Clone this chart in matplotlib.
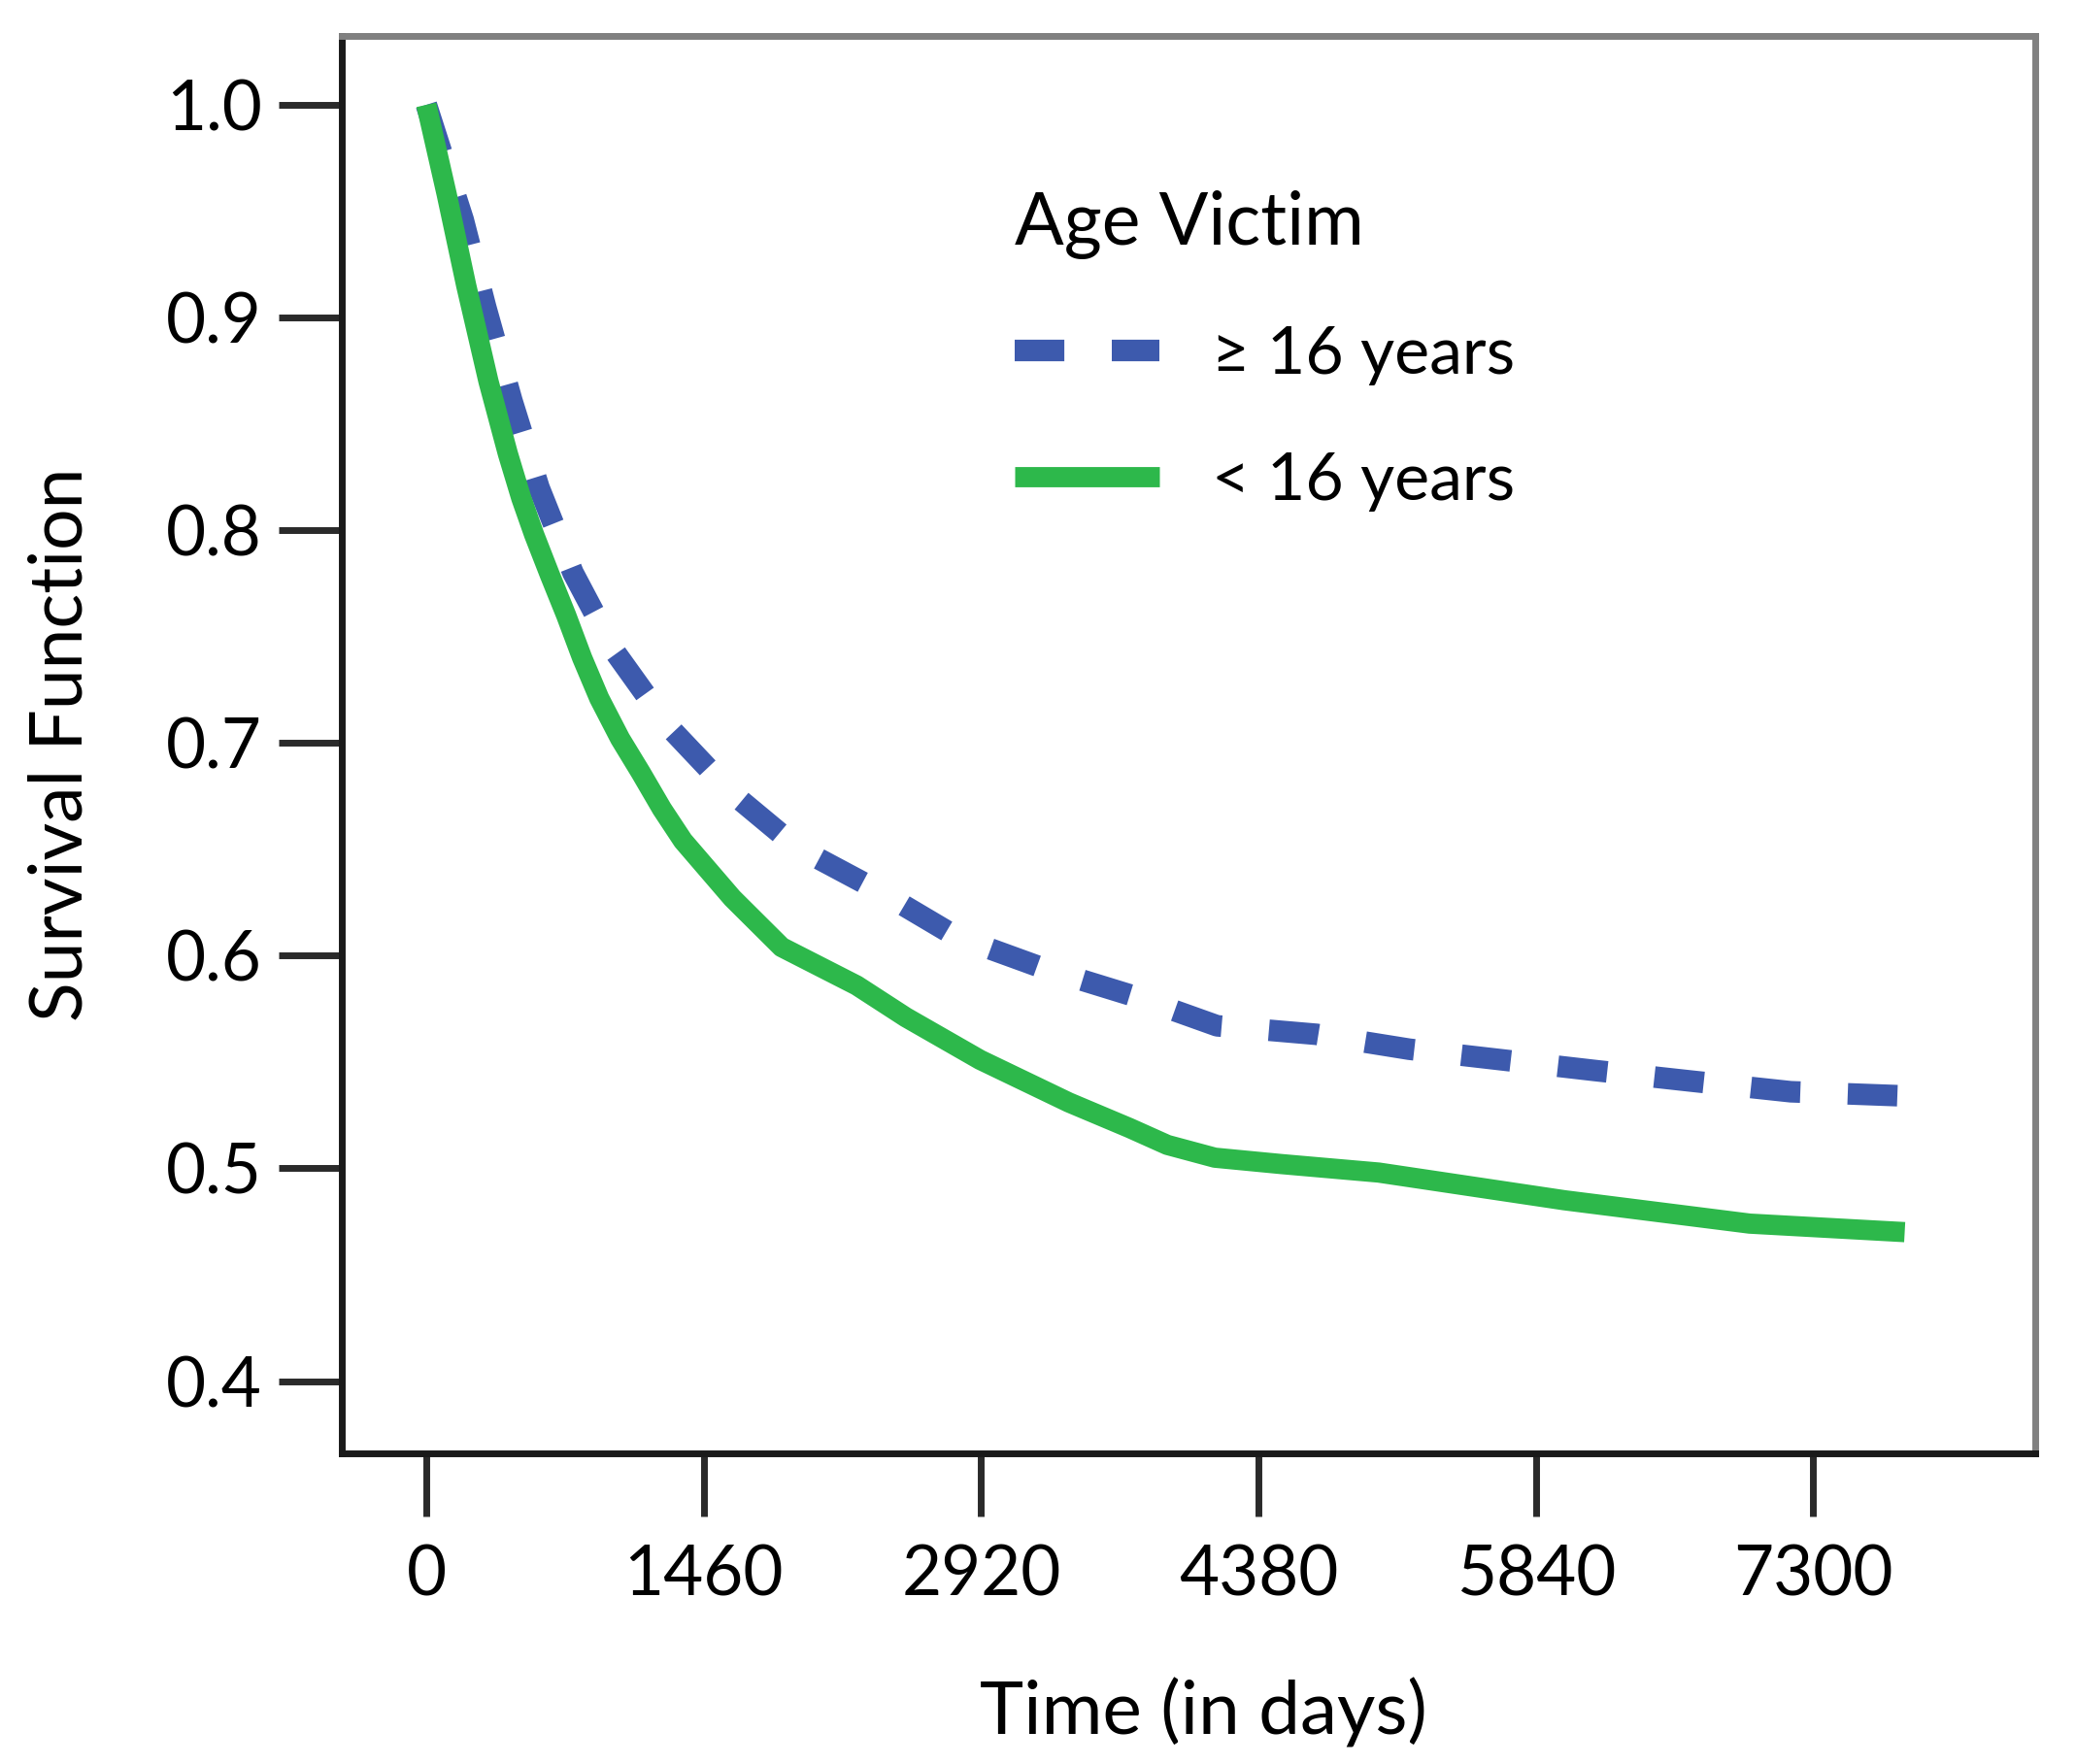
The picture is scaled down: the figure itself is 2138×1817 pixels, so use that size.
import matplotlib
matplotlib.use("Agg")
import matplotlib.pyplot as plt

plt.rcParams['font.family'] = ['Lato', 'DejaVu Sans']

# ---- data ----
days_ge16 = [0, 194, 312, 450, 593, 772, 991, 1272, 1600, 1950, 2391, 2788,
             3250, 3723, 4162, 4685, 5173, 5661, 6149, 6658, 7181, 7790]
surv_ge16 = [1.0, 0.946, 0.905, 0.861, 0.820, 0.780, 0.743, 0.708, 0.677, 0.651,
             0.630, 0.609, 0.594, 0.581, 0.567, 0.563, 0.556, 0.551, 0.546,
             0.541, 0.536, 0.534]

days_lt16 = [0, 107, 210, 327, 429, 500, 567, 650, 736, 820, 910, 1020, 1129,
             1240, 1351, 1611, 1870, 2265, 2524, 2915, 3381, 3700, 3900, 4150,
             4500, 5013, 5989, 6965, 7781]
surv_lt16 = [1.0, 0.958, 0.915, 0.870, 0.836, 0.815, 0.798, 0.779, 0.760,
             0.740, 0.721, 0.702, 0.686, 0.669, 0.654, 0.627, 0.604, 0.586, 0.571,
             0.551, 0.531, 0.519, 0.511, 0.505, 0.502, 0.498, 0.485, 0.474, 0.470]

x_ticks = [0, 1460, 2920, 4380, 5840, 7300]
y_ticks = [0.4, 0.5, 0.6, 0.7, 0.8, 0.9, 1.0]
y_tick_labels = ["0.4", "0.5", "0.6", "0.7", "0.8", "0.9", "1.0"]
labels = ["\u2265 16 years", "< 16 years"]
legend_title = "Age Victim"

BLUE = "#3d5aad"
GREEN = "#2db84b"

W, H, DPI = 2138, 1817, 100
fig = plt.figure(figsize=(W / DPI, H / DPI), dpi=DPI)
ax = fig.add_axes([352 / W, 1 - 1497 / H, (2096 - 352) / W, (1497 - 37) / H])

ax.plot(days_ge16, surv_ge16, color=BLUE, lw=16, linestyle=(0, (2.3, 2.2)),
        dash_capstyle='butt', label=labels[0])
ax.plot(days_lt16, surv_lt16, color=GREEN, lw=15, solid_capstyle='butt',
        solid_joinstyle='round', label=labels[1])

ax.set_xlim(-445, 8468)
ax.set_ylim(0.366, 1.0324)

ax.set_xticks(x_ticks)
ax.set_xticklabels([str(v) for v in x_ticks])
ax.set_yticks(y_ticks)
ax.set_yticklabels(y_tick_labels)

ax.tick_params(axis='both', direction='out', length=47, width=5, color='#2a2a2a',
               labelsize=51, labelcolor='black')
ax.tick_params(axis='y', pad=12)
ax.tick_params(axis='x', pad=20)

for side in ['left', 'bottom']:
    ax.spines[side].set_color('#1a1a1a')
    ax.spines[side].set_linewidth(5)
for side in ['top', 'right']:
    ax.spines[side].set_color('#808080')
    ax.spines[side].set_linewidth(5)

ax.set_xlabel("Time (in days)", fontsize=55)
ax.xaxis.set_label_coords((1239 - 352) / 1744, -0.158)
ax.set_ylabel("Survival Function", fontsize=54)
ax.yaxis.set_label_coords(-0.146, 0.5)

leg = ax.legend(title=legend_title, loc='upper left',
                bbox_to_anchor=((1045 - 352) / 1744, 1 - (196 - 37) / 1460),
                frameon=False, fontsize=49, title_fontsize=54,
                handlelength=2.19, handletextpad=0.8, labelspacing=1.0,
                borderpad=0, borderaxespad=0, alignment='left')

fig.savefig("out.png", dpi=DPI)
